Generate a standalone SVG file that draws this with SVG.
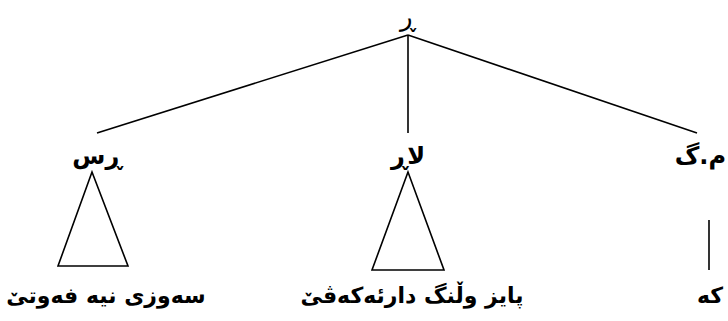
<svg xmlns="http://www.w3.org/2000/svg" width="728" height="321" viewBox="0 0 728 321">
<style>
.t{font-family:"DejaVu Sans",sans-serif;font-size:24px;font-weight:bold;fill:#000;text-anchor:middle;direction:rtl}
.lf{font-size:22px}
.r{font-weight:normal;font-size:26px}
.l{stroke:#000;stroke-width:1.6;fill:none}
</style>
<rect width="728" height="321" fill="#fff"/>
<g id="connectors">
<line class="l" x1="408" y1="35" x2="97" y2="133"/>
<line class="l" x1="408" y1="35" x2="408" y2="133"/>
<line class="l" x1="408" y1="35" x2="697" y2="133"/>
<polygon class="l" points="92,172 58,266 128,266"/>
<polygon class="l" points="408,172 372,270 444,270"/>
<line class="l" x1="709" y1="220" x2="709" y2="270"/>
</g>
<g id="root"><text class="t r" x="408" y="26">ڕ</text></g>
<g id="n1"><text class="t" x="97" y="164">ڕس</text></g>
<g id="n2"><text class="t" x="408" y="164">لاڕ</text></g>
<g id="n3"><text class="t" x="726" y="164" style="text-anchor:start">م.گ</text></g>
<g id="leaf1"><text class="t lf" x="106" y="303">سەوزی نیە فەوتێ</text></g>
<g id="leaf2"><text class="t lf" x="412" y="303">پایز وڵنگ دارئەکەڤێ</text></g>
<g id="leaf3"><text class="t lf" x="710" y="303">کە</text></g>
</svg>
